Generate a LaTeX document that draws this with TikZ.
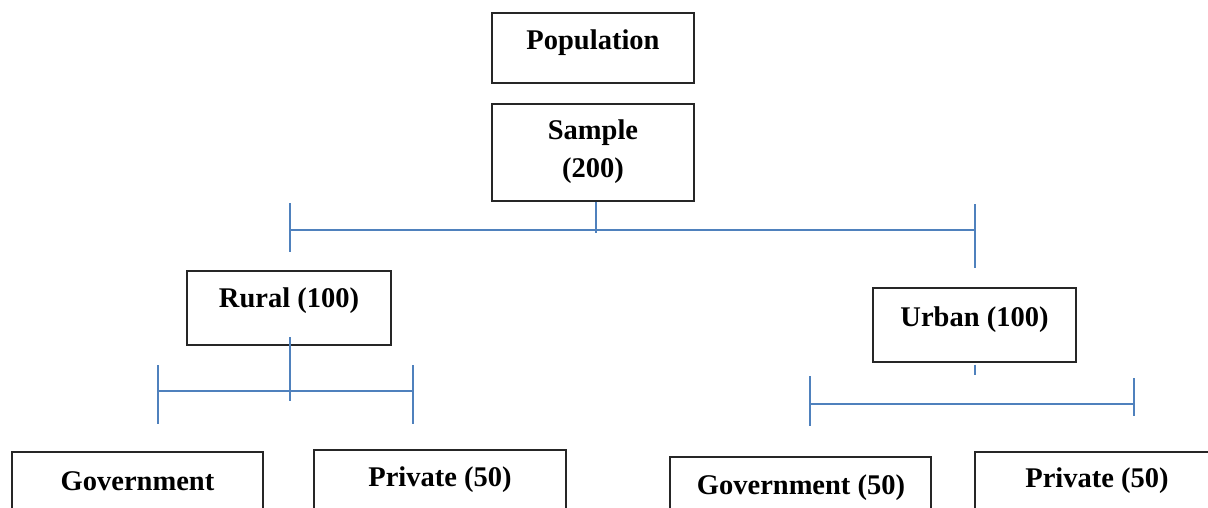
\documentclass[tikz,border=0pt]{standalone}
\usepackage{fontspec}
\setmainfont{Liberation Serif}
\definecolor{lineblue}{HTML}{4F81BD}
\begin{document}
\begin{tikzpicture}[x=1pt,y=-1pt,
  box/.style={draw=black!85, line width=1.2pt, rectangle, inner sep=0pt},
  conn/.style={draw=lineblue, line width=2pt},
  lbl/.style={font=\fontsize{28.5}{34}\selectfont\bfseries, anchor=base, inner sep=0pt}]
\useasboundingbox (0,0) rectangle (1208,508);
\clip (0,0) rectangle (1208,508);
% boxes
\node[box, minimum width=202, minimum height=70] (pop) at (593,48) {};
\node[box, minimum width=202, minimum height=97] (sample) at (593,152.5) {};
\node[box, minimum width=204, minimum height=74] (rural) at (289,308) {};
\node[box, minimum width=203, minimum height=74] (urban) at (974.5,325) {};
\node[box, minimum width=251, minimum height=110] (govL) at (137.5,507) {};
\node[box, minimum width=252, minimum height=112] (privL) at (440,506) {};
\node[box, minimum width=261, minimum height=102] (govR) at (800.5,508) {};
\node[box, minimum width=252, minimum height=112] (privR) at (1101,508) {};
% texts
\node[lbl] (popT) at (593,50) {Population};
\node[lbl] (sampT1) at (593,140) {Sample};
\node[lbl] (sampT2) at (593,178) {(200)};
\node[lbl] (ruralT) at (289,307) {Rural (100)};
\node[lbl] (urbanT) at (974.5,326) {Urban (100)};
\node[lbl] (govLT) at (137.5,490) {Government};
\node[lbl] (privLT) at (440,486) {Private (50)};
\node[lbl] (govRT) at (801,494) {Government (50)};
\node[lbl] (privRT) at (1097,487) {Private (50)};
% top bracket
\coordinate (tL) at (290,230);
\coordinate (tR) at (975,230);
\draw[conn] ([xshift=3pt]sample.south) -- ++(0,31);
\draw[conn] (tL) -- (tR);
\draw[conn] (290,203) -- (290,252);
\draw[conn] (975,204) -- (975,268);
% rural bracket
\coordinate (rL) at (158,391);
\coordinate (rR) at (413,391);
\draw[conn] (290,337) -- (290,401);
\draw[conn] (rL) -- (rR);
\draw[conn] (158,365) -- (158,424);
\draw[conn] (413,365) -- (413,424);
% urban bracket
\coordinate (uL) at (810,404);
\coordinate (uR) at (1134,404);
\draw[conn] ([yshift=-2pt]urban.south) -- ++(0,10);
\draw[conn] (uL) -- (uR);
\draw[conn] (810,376) -- (810,426);
\draw[conn] (1134,378) -- (1134,416);
\end{tikzpicture}
\end{document}
